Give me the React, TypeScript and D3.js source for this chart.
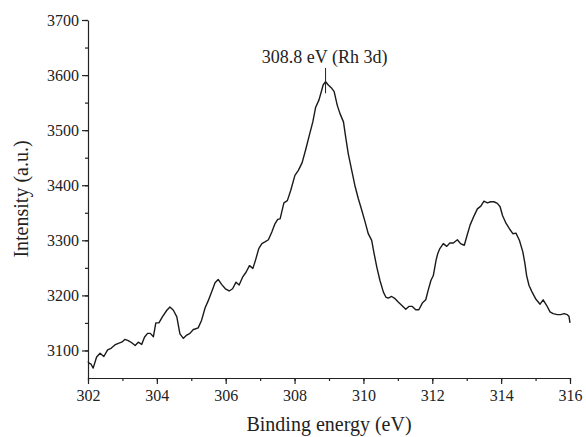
import React, { useRef, useEffect } from 'react';
import * as d3 from 'd3';

// binding energy (eV) and intensity
const energy = [
  302.0, 302.03, 302.09, 302.15, 302.25, 302.35, 302.46, 302.57, 302.67, 302.78, 302.88,
  302.98, 303.07, 303.17, 303.27, 303.37, 303.46, 303.56, 303.64, 303.73, 303.81, 303.9,
  303.97, 304.06, 304.16, 304.29, 304.38, 304.48, 304.58, 304.67, 304.77, 304.87, 304.96,
  305.06, 305.11, 305.2, 305.3, 305.4, 305.49, 305.59, 305.69, 305.78, 305.88, 305.99,
  306.1, 306.2, 306.3, 306.39, 306.49, 306.59, 306.69, 306.79, 306.87, 306.96, 307.05,
  307.14, 307.24, 307.34, 307.43, 307.51, 307.58, 307.69, 307.79, 307.89, 308.01, 308.11,
  308.22, 308.32, 308.43, 308.53, 308.61, 308.71, 308.79, 308.83, 308.9, 308.98, 309.08,
  309.15, 309.24, 309.32, 309.42, 309.49, 309.56, 309.66, 309.75, 309.85, 309.95, 310.05,
  310.14, 310.24, 310.31, 310.39, 310.48, 310.58, 310.65, 310.72, 310.82, 310.92, 311.01,
  311.11, 311.23, 311.32, 311.42, 311.52, 311.61, 311.71, 311.81, 311.88, 311.96, 312.03,
  312.11, 312.16, 312.22, 312.32, 312.42, 312.51, 312.61, 312.73, 312.82, 312.93, 313.02,
  313.1, 313.21, 313.31, 313.41, 313.5, 313.6, 313.7, 313.79, 313.89, 313.97, 314.04,
  314.14, 314.24, 314.34, 314.43, 314.53, 314.63, 314.69, 314.74, 314.81, 314.9, 315.0,
  315.13, 315.22, 315.32, 315.42, 315.51, 315.63, 315.73, 315.83, 315.92, 315.97, 316.0,
];
const intensity = [
  3080, 3077, 3075, 3068, 3088, 3095, 3089, 3101, 3104, 3110, 3113,
  3115, 3120, 3118, 3114, 3109, 3115, 3111, 3124, 3131, 3131, 3125,
  3150, 3150, 3161, 3173, 3179, 3173, 3161, 3130, 3122, 3128, 3131,
  3138, 3139, 3141, 3155, 3177, 3190, 3206, 3223, 3229, 3220, 3212,
  3208, 3212, 3224, 3219, 3233, 3242, 3254, 3249, 3265, 3285, 3294,
  3297, 3301, 3315, 3330, 3338, 3339, 3368, 3372, 3391, 3418, 3427,
  3441, 3464, 3491, 3515, 3541, 3555, 3573, 3582, 3588, 3582, 3576,
  3570, 3545, 3530, 3515, 3485, 3457, 3427, 3400, 3376, 3355, 3333,
  3312, 3300, 3276, 3251, 3227, 3206, 3197, 3195, 3198, 3194, 3188,
  3182, 3175, 3180, 3180, 3174, 3174, 3186, 3192, 3209, 3227, 3236,
  3264, 3276, 3285, 3294, 3289, 3295, 3295, 3301, 3294, 3291, 3311,
  3328, 3344, 3357, 3362, 3371, 3368, 3370, 3370, 3367, 3361, 3345,
  3331, 3321, 3312, 3313, 3300, 3279, 3258, 3236, 3218, 3206, 3194,
  3184, 3192, 3182, 3170, 3167, 3165, 3165, 3167, 3165, 3162, 3150,
];

const xTicks = [302, 304, 306, 308, 310, 312, 314, 316];
const yTicks = [3100, 3200, 3300, 3400, 3500, 3600, 3700];
const peakLabel = '308.8 eV (Rh 3d)';
const peakEnergy = 308.9;
const peakMarker = [3567, 3613];

const W = 586;
const H = 437;

const App = () => {
  const svgRef = useRef<SVGSVGElement>(null);

  useEffect(() => {
    const svg = d3.select(svgRef.current);
    svg.selectAll('*').remove();

    const margin = { top: 20, right: 16, bottom: 59, left: 88 };

    const x = d3.scaleLinear().domain([302, 316]).range([margin.left, W - margin.right]);
    const y = d3.scaleLinear().domain([3050, 3700]).range([H - margin.bottom, margin.top]);

    const font = "'Liberation Serif', 'Times New Roman', serif";

    // x axis with minor ticks
    const xAxis = svg.append('g').attr('transform', `translate(0,${H - margin.bottom})`);
    xAxis.call(d3.axisBottom(x).tickValues(d3.range(302, 316.01, 1)).tickSize(3).tickFormat(() => ''));
    xAxis.call(g => g.select('.domain').remove());
    const xMajor = svg.append('g').attr('transform', `translate(0,${H - margin.bottom})`)
      .call(d3.axisBottom(x).tickValues(xTicks).tickSize(6).tickSizeOuter(0).tickFormat(d3.format('d')));
    xMajor.selectAll('text').attr('dy', '0.9em');

    const yAxis = svg.append('g').attr('transform', `translate(${margin.left},0)`);
    yAxis.call(d3.axisLeft(y).tickValues(d3.range(3100, 3701, 50)).tickSize(3).tickFormat(() => ''));
    yAxis.call(g => g.select('.domain').remove());
    const yMajor = svg.append('g').attr('transform', `translate(${margin.left},0)`)
      .call(d3.axisLeft(y).tickValues(yTicks).tickSize(6).tickSizeOuter(0).tickFormat(d3.format('d')));

    svg.selectAll('g').attr('font-family', null).attr('font-size', null);
    svg.selectAll('.tick text').style('font-family', font).style('font-size', '16px').attr('fill', '#222');
    svg.selectAll('.domain, .tick line').attr('stroke', '#222').attr('stroke-width', 1.2);

    const points = energy.map((e, i) => [e, intensity[i]] as [number, number]);
    const line = d3.line<[number, number]>().x(d => x(d[0])).y(d => y(d[1]));

    svg.append('path')
      .datum(points)
      .attr('fill', 'none')
      .attr('stroke', '#1a1a1a')
      .attr('stroke-width', 1.4)
      .attr('stroke-linejoin', 'round')
      .attr('d', line);

    // peak annotation
    svg.append('line')
      .attr('x1', x(peakEnergy)).attr('x2', x(peakEnergy))
      .attr('y1', y(peakMarker[0])).attr('y2', y(peakMarker[1]))
      .attr('stroke', '#222').attr('stroke-width', 1);

    svg.append('text')
      .attr('x', x(peakEnergy) - 1)
      .attr('y', y(peakMarker[1]) - 5)
      .attr('text-anchor', 'middle')
      .style('font-family', font)
      .style('font-size', '18px')
      .attr('fill', '#222')
      .text(peakLabel);

    svg.append('text')
      .attr('x', (margin.left + W - margin.right) / 2)
      .attr('y', H - 6)
      .attr('text-anchor', 'middle')
      .style('font-family', font)
      .style('font-size', '20px')
      .attr('fill', '#222')
      .text('Binding energy (eV)');

    svg.append('text')
      .attr('transform', `translate(28,${(margin.top + H - margin.bottom) / 2}) rotate(-90)`)
      .attr('text-anchor', 'middle')
      .style('font-family', font)
      .style('font-size', '20px')
      .attr('fill', '#222')
      .text('Intensity (a.u.)');
  }, []);

  return (
    <svg ref={svgRef} width={W} height={H}
      style={{ position: 'absolute', left: 0, top: 0, background: '#fff' }} />
  );
};

export default App;
